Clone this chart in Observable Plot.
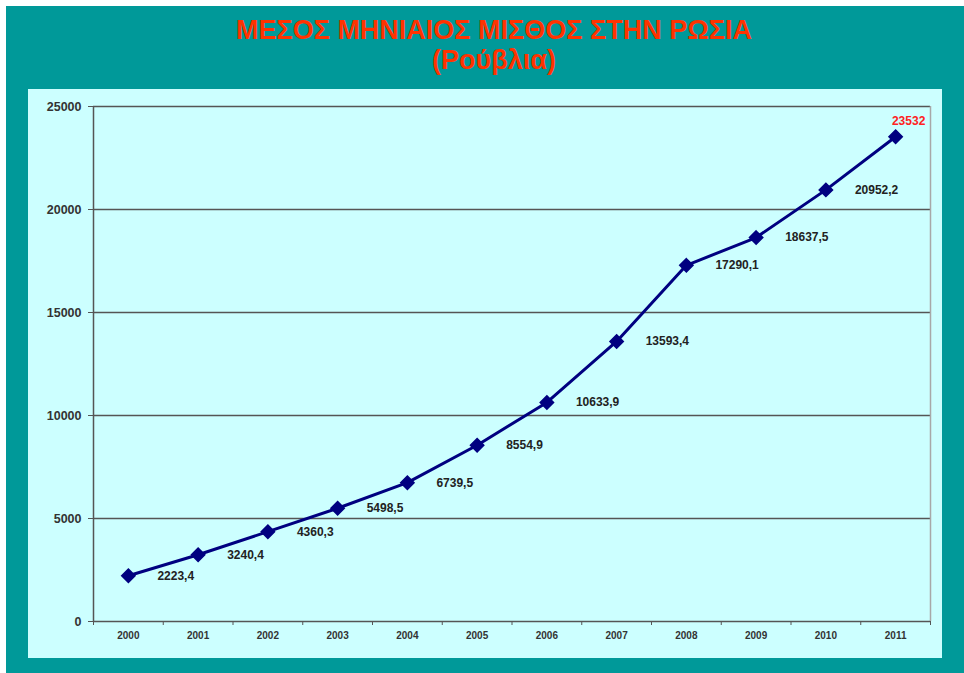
<!DOCTYPE html>
<html>
<head>
<meta charset="utf-8">
<script src="https://cdn.jsdelivr.net/npm/d3@7"></script>
<script src="https://cdn.jsdelivr.net/npm/@observablehq/plot@0.6"></script>
<style>
  html, body { margin: 0; padding: 0; background: #ffffff; width: 964px; height: 673px; overflow: hidden; }
  #frame { position: absolute; left: 6px; top: 6px; width: 958px; height: 667px; background: #009999; }
  .title { position: absolute; left: 0; width: 988px; text-align: center; font-family: "Liberation Sans", Arial, sans-serif; font-weight: bold; font-size: 27px; color: #ff3300; line-height: 30px; }
  #panel { position: absolute; left: 28px; top: 89px; width: 914px; height: 569px; background: #ccffff; }
  #panel svg { display: block; }
</style>
</head>
<body>
<div id="frame"></div>
<div class="title" style="top:15px;">ΜΕΣΟΣ ΜΗΝΙΑΙΟΣ ΜΙΣΘΟΣ ΣΤΗΝ ΡΩΣΙΑ</div>
<div class="title" style="top:45px;">(Ρούβλια)</div>
<div id="panel"></div>
<script>
const years = ["2000","2001","2002","2003","2004","2005","2006","2007","2008","2009","2010","2011"];
const wages = [2223.4, 3240.4, 4360.3, 5498.5, 6739.5, 8554.9, 10633.9, 13593.4, 17290.1, 18637.5, 20952.2, 23532];
const yTicks = [0, 5000, 10000, 15000, 20000, 25000];

const data = years.map((y, i) => ({year: y, idx: i + 0.5, value: wages[i]}));
const fmt = v => String(v).replace(".", ",");
const body = data.slice(0, -1);
const last = data.slice(-1);
const font = "'Liberation Sans', Arial, sans-serif";

const chart = Plot.plot({
  width: 914,
  height: 569,
  marginLeft: 65,
  marginRight: 12,
  marginTop: 17,
  marginBottom: 37,
  style: {background: "transparent", fontFamily: font},
  x: {type: "linear", domain: [0, years.length]},
  y: {domain: [0, 25000]},
  marks: [
    Plot.ruleY(yTicks.filter(t => t > 0), {stroke: "#555555", strokeWidth: 1.5}),
    Plot.ruleX([years.length], {stroke: "#a8a8a8", strokeWidth: 1.5}),
    Plot.ruleY([0], {stroke: "#555555", strokeWidth: 1.5}),
    Plot.ruleX([0], {stroke: "#555555", strokeWidth: 1.5}),
    Plot.axisY({ticks: yTicks, tickSize: 5, tickPadding: 7, tickFormat: d => String(d), fontWeight: "bold", fontSize: 12.5, fill: "#333", stroke: "#555", label: null, style: {letterSpacing: "1.2px"}}),
    Plot.axisX({ticks: d3.range(0, years.length + 1), tickSize: 4, tickFormat: () => "", stroke: "#555", label: null}),
    Plot.axisX({ticks: data.map(d => d.idx), tickSize: 0, tickPadding: 10, tickFormat: t => years[Math.floor(t)], fontWeight: "bold", fontSize: 10, fill: "#333", label: null, style: {letterSpacing: "0.5px"}}),
    Plot.line(data, {x: "idx", y: "value", stroke: "#000080", strokeWidth: 3}),
    Plot.dot(data, {x: "idx", y: "value", symbol: "diamond2", r: 6, fill: "#000080", stroke: "#000080"}),
    Plot.text(body, {x: "idx", y: "value", text: d => fmt(d.value), textAnchor: "start", dx: 29, dy: 0, fontWeight: "bold", fontSize: 12, fill: "#222", style: {letterSpacing: "1.3px"}}),
    Plot.text(last, {x: "idx", y: "value", text: d => fmt(d.value), dx: 13, dy: -16, fontWeight: "bold", fontSize: 12, fill: "#ff2222", style: {letterSpacing: "1.3px"}})
  ]
});
document.getElementById("panel").appendChild(chart);
</script>
</body>
</html>
